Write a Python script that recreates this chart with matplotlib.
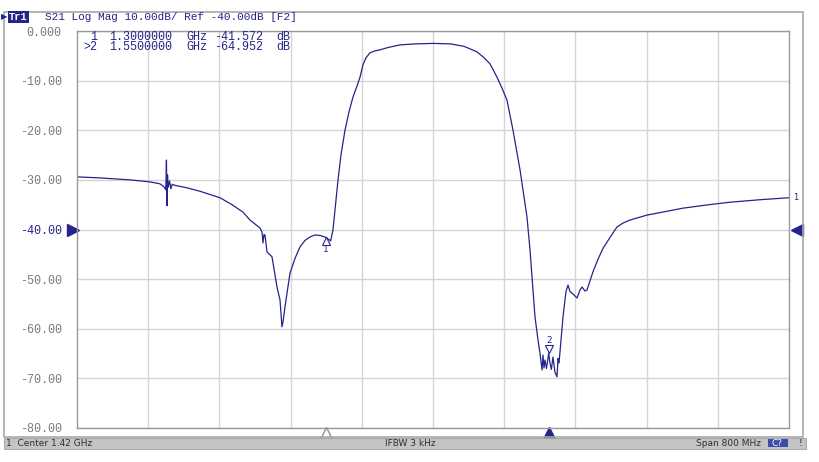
import matplotlib.pyplot as plt
from matplotlib.patches import Rectangle
import matplotlib.transforms as mtransforms

# S21 trace (GHz, dB)
freq_ghz = [1.0200, 1.0458, 1.0796, 1.1020, 1.1133, 1.1178, 1.1198, 1.1205, 1.1211, 1.1217,
            1.1225, 1.1240, 1.1255, 1.1270, 1.1300, 1.1436, 1.1582, 1.1807, 1.1942, 1.2065,
            1.2144, 1.2200, 1.2256, 1.2279, 1.2290, 1.2301, 1.2312, 1.2335, 1.2391, 1.2447,
            1.2481, 1.2503, 1.2515, 1.2537, 1.2593, 1.2650, 1.2706, 1.2762, 1.2818, 1.2874,
            1.2931, 1.3000, 1.3050, 1.3076, 1.3133, 1.3166, 1.3211, 1.3256, 1.3301, 1.3346,
            1.3380, 1.3413, 1.3447, 1.3492, 1.3548, 1.3604, 1.3700, 1.3829, 1.4000, 1.4200,
            1.4400, 1.4550, 1.4616, 1.4694, 1.4762, 1.4840, 1.4919, 1.4975, 1.5031, 1.5099,
            1.5178, 1.5256, 1.5290, 1.5346, 1.5380, 1.5402, 1.5425, 1.5436, 1.5447, 1.5458,
            1.5475, 1.5500, 1.5514, 1.5530, 1.5548, 1.5570, 1.5593, 1.5605, 1.5616, 1.5661,
            1.5694, 1.5717, 1.5739, 1.5773, 1.5818, 1.5852, 1.5874, 1.5908, 1.5930, 1.5998,
            1.6054, 1.6110, 1.6189, 1.6267, 1.6335, 1.6413, 1.6604, 1.6807, 1.7009, 1.7256,
            1.7537, 1.7874, 1.8200]
s21_db = [-29.4, -29.6, -30.0, -30.4, -30.8, -31.4, -32.0, -26.0, -35.2, -29.0,
          -31.5, -30.2, -31.8, -30.9, -31.1, -31.6, -32.3, -33.6, -35.0, -36.5,
          -38.1, -38.9, -39.7, -40.5, -42.7, -41.0, -41.1, -44.5, -45.5, -51.6,
          -54.2, -59.6, -58.6, -55.6, -48.8, -45.8, -43.5, -42.2, -41.5, -41.1,
          -41.2, -41.6, -42.3, -40.1, -30.0, -25.0, -20.0, -16.3, -13.3, -11.1,
          -9.3, -6.8, -5.4, -4.4, -4.0, -3.8, -3.3, -2.8, -2.6, -2.5,
          -2.6, -3.1, -3.6, -4.2, -5.2, -6.6, -9.3, -11.5, -13.9, -20.0,
          -28.0, -37.5, -44.1, -57.6, -62.3, -64.9, -68.3, -65.3, -67.9, -66.3,
          -68.0, -64.95, -66.9, -68.2, -65.7, -68.7, -69.7, -66.0, -66.9, -57.6,
          -52.5, -51.2, -52.5, -53.0, -53.8, -52.2, -51.6, -52.4, -52.2, -48.5,
          -46.0, -43.8, -41.6, -39.5, -38.7, -38.1, -37.1, -36.4, -35.7, -35.1,
          -34.5, -34.0, -33.6]

marker_ids = ['1', '>2']
marker_freq = [1.30, 1.55]
marker_db = [-41.572, -64.952]

y_ticks = [0, -10, -20, -30, -40, -50, -60, -70, -80]
y_labels = ['0.000', '-10.00', '-20.00', '-30.00', '-40.00', '-50.00', '-60.00', '-70.00', '-80.00']

NAVY = '#24248a'
GREY = '#7a7a7a'
W, H = 820, 462

fig = plt.figure(figsize=(W / 100, H / 100), dpi=100)
fig.patch.set_facecolor('white')


def px(x, y):
    # pixel position (from top-left) -> figure fraction
    return x / W, 1 - y / H


# outer window frame and status bar
frame = Rectangle(px(4, 437), (803 - 4) / W, (437 - 12) / H, transform=fig.transFigure,
                  fill=False, edgecolor='#a8a8a8', linewidth=1.2)
fig.patches.append(frame)
bar = Rectangle(px(4, 449), (806 - 4) / W, 11 / H, transform=fig.transFigure,
                facecolor='#c4c4c4', edgecolor='#a0a0a0', linewidth=0.6)
fig.patches.append(bar)
fig.patches.append(Rectangle(px(768, 447), 20 / W, 8 / H, transform=fig.transFigure,
                             facecolor='#3b4fa8', edgecolor='none'))
fig.text(*px(6, 443.5), '1  Center 1.42 GHz', fontsize=6.5, va='center', color='#303030')
fig.text(*px(385, 443.5), 'IFBW 3 kHz', fontsize=6.5, va='center', color='#303030')
fig.text(*px(696, 443.5), 'Span 800 MHz', fontsize=6.5, va='center', color='#303030')
fig.text(*px(772, 443.5), 'C?', fontsize=6.5, va='center', color='white')
fig.text(*px(799, 443.5), '!', fontsize=6.5, va='center', color='#303030')

# trace title line
fig.text(*px(1, 17), '\u25b6', fontsize=6, va='center', color=NAVY)
fig.text(*px(9, 17), 'Tr1', fontsize=7.5, va='center', color='white', family='Liberation Mono',
         weight='bold', bbox=dict(boxstyle='square,pad=0.1', facecolor=NAVY, edgecolor='none'))
fig.text(*px(45, 17), 'S21 Log Mag 10.00dB/ Ref -40.00dB [F2]', fontsize=8,
         va='center', color=NAVY, family='Liberation Mono')

ax = fig.add_axes([77 / W, (H - 428) / H, 712 / W, 397 / H])
ax.plot(freq_ghz, s21_db, color=NAVY, linewidth=0.9)
ax.set_xlim(1.02, 1.82)
ax.set_ylim(-80, 0)
ax.set_xticks([1.02 + 0.08 * i for i in range(1, 10)])
ax.set_xticklabels([])
ax.set_yticks(y_ticks)
ax.set_yticklabels(y_labels, family='Liberation Mono', fontsize=8.5, color=GREY)
ax.tick_params(length=0, pad=11)
for lbl in ax.get_yticklabels():
    if lbl.get_text() == '-40.00':
        lbl.set_color(NAVY)
ax.grid(True, color='#d4d4d4', linewidth=1)
for s in ax.spines.values():
    s.set_color('#9a9a9a')
    s.set_linewidth(1)

# reference level arrows
ytrans = ax.get_yaxis_transform()
ax.plot([-0.006], [-40], marker='>', markersize=8, color=NAVY, transform=ytrans, clip_on=False)
ax.plot([1.011], [-40], marker='<', markersize=8, color=NAVY, transform=ytrans, clip_on=False)
ax.text(1.006, s21_db[-1], '1', transform=ytrans, fontsize=6, color=NAVY, va='center')

# markers on the trace
xtrans = ax.get_xaxis_transform()
ax.plot(marker_freq[0], marker_db[0], marker='^', markersize=6, markerfacecolor='white',
        markeredgecolor=NAVY, markeredgewidth=0.8, linestyle='none',
        transform=ax.transData + mtransforms.ScaledTranslation(0, -3 / 72, fig.dpi_scale_trans))
ax.annotate('1', (marker_freq[0], marker_db[0]), xytext=(0, -9), textcoords='offset points',
            ha='center', va='center', fontsize=6.5, color=NAVY)
ax.plot(marker_freq[1], marker_db[1], marker='v', markersize=6, markerfacecolor='white',
        markeredgecolor=NAVY, markeredgewidth=0.8, linestyle='none',
        transform=ax.transData + mtransforms.ScaledTranslation(0, 3 / 72, fig.dpi_scale_trans))
ax.annotate('2', (marker_freq[1], marker_db[1]), xytext=(0, 9), textcoords='offset points',
            ha='center', va='center', fontsize=6.5, color=NAVY)

# marker position indicators under the grid
ax.plot([marker_freq[0]], [-0.012], marker='^', markersize=8, markerfacecolor='white',
        markeredgecolor='#909090', transform=xtrans, clip_on=False)
ax.plot([marker_freq[1]], [-0.012], marker='^', markersize=8, color=NAVY,
        transform=xtrans, clip_on=False)

# marker readout table, one multi-line text per column
kw = dict(fontsize=8.5, va='center', color=NAVY, family='Liberation Mono', linespacing=0.78)
fig.text(*px(97, 42), '\n'.join(marker_ids), ha='right', multialignment='right', **kw)
fig.text(*px(109, 42), '\n'.join(f'{f:.7f}' for f in marker_freq), **kw)
fig.text(*px(186, 42), '\n'.join('GHz' for _ in marker_ids), **kw)
fig.text(*px(214, 42), '\n'.join(f'{v:.3f}' for v in marker_db), **kw)
fig.text(*px(276, 42), '\n'.join('dB' for _ in marker_ids), **kw)

plt.savefig('out.png', dpi=100)
